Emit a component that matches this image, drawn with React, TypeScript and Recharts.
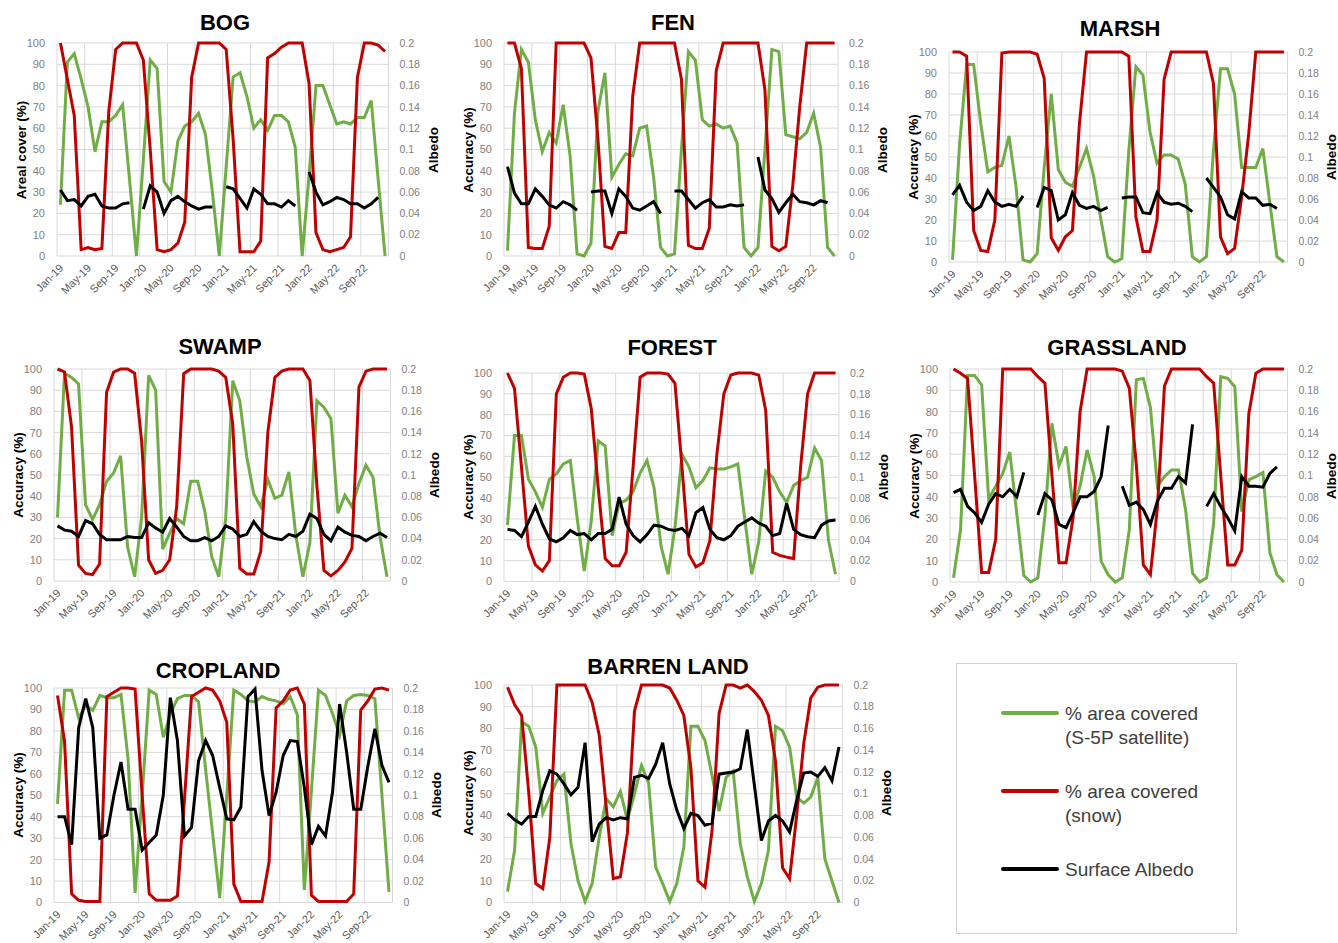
import { LineChart, Line, XAxis, YAxis, CartesianGrid } from 'recharts';

const MONTHS = [
  'Jan-19', 'Feb-19', 'Mar-19', 'Apr-19', 'May-19', 'Jun-19', 'Jul-19', 'Aug-19', 'Sep-19', 'Oct-19', 'Nov-19', 'Dec-19',
  'Jan-20', 'Feb-20', 'Mar-20', 'Apr-20', 'May-20', 'Jun-20', 'Jul-20', 'Aug-20', 'Sep-20', 'Oct-20', 'Nov-20', 'Dec-20',
  'Jan-21', 'Feb-21', 'Mar-21', 'Apr-21', 'May-21', 'Jun-21', 'Jul-21', 'Aug-21', 'Sep-21', 'Oct-21', 'Nov-21', 'Dec-21',
  'Jan-22', 'Feb-22', 'Mar-22', 'Apr-22', 'May-22', 'Jun-22', 'Jul-22', 'Aug-22', 'Sep-22', 'Oct-22', 'Nov-22', 'Dec-22',
];
// labelled every 4th month
const MONTH_TICKS = [0, 4, 8, 12, 16, 20, 24, 28, 32, 36, 40, 44];
const PCT_TICKS = [0, 10, 20, 30, 40, 50, 60, 70, 80, 90, 100];
const ALB_TICKS = [0, 0.02, 0.04, 0.06, 0.08, 0.1, 0.12, 0.14, 0.16, 0.18, 0.2];

// % area covered (S-5P satellite), % area covered (snow), surface albedo
const BOG_SAT = [24, 91, 95, 83, 70, 49, 63, 63, 66, 71, 36, 0, 45, 92, 88, 35, 30, 54, 61, 63, 67, 57, 30, 0, 42, 84, 86, 75, 60, 64, 59, 66, 66, 63, 51, 0, 38, 80, 80, 71, 62, 63, 62, 65, 65, 73, 36, 0];
const BOG_SNOW = [100, 83, 66, 3, 4, 3, 3.5, 68, 97, 100, 100, 100, 92, 50, 3, 2, 3, 6, 16, 84, 100, 100, 100, 100, 97, 55, 2, 2, 2, 7, 93, 95, 98, 100, 100, 100, 81, 11, 3, 2, 3, 4, 9, 84, 100, 100, 99, 96];
const BOG_ALB = [0.062, 0.052, 0.053, 0.047, 0.056, 0.058, 0.047, 0.045, 0.045, 0.049, 0.05, null, 0.044, 0.066, 0.06, 0.04, 0.052, 0.056, 0.051, 0.047, 0.044, 0.046, 0.046, null, 0.065, 0.063, 0.054, 0.045, 0.063, 0.058, 0.049, 0.049, 0.046, 0.052, 0.047, null, 0.079, 0.06, 0.048, 0.051, 0.055, 0.053, 0.049, 0.049, 0.045, 0.049, 0.055, null];

const FEN_SAT = [2.5, 67, 97, 91, 64, 49, 58, 53, 71, 47, 1, 0, 6, 68, 86, 37, 43, 48, 47, 60, 61, 37, 4, 0, 1, 50, 96, 92, 64, 61, 62, 60, 61, 53, 4, 0, 4, 50, 97, 96, 57, 56, 55, 58, 67, 51, 4, 0];
const FEN_SNOW = [100, 100, 88, 4, 3.5, 3.5, 14, 100, 100, 100, 100, 100, 93, 55, 4.5, 3.5, 11, 11, 75, 100, 100, 100, 100, 100, 100, 83, 5, 3.5, 3.5, 13, 87, 100, 100, 100, 100, 100, 100, 78, 4.5, 2.5, 4.5, 33, 70, 100, 100, 100, 100, 100];
const FEN_ALB = [0.084, 0.059, 0.049, 0.049, 0.063, 0.056, 0.048, 0.045, 0.051, 0.048, 0.043, null, 0.06, 0.061, 0.061, 0.04, 0.063, 0.056, 0.045, 0.043, 0.047, 0.051, 0.04, null, 0.061, 0.061, 0.053, 0.045, 0.05, 0.053, 0.046, 0.046, 0.048, 0.047, 0.048, null, 0.093, 0.062, 0.054, 0.041, 0.05, 0.058, 0.051, 0.05, 0.048, 0.052, 0.05, null];

const MARSH_SAT = [1, 56, 94, 94, 66, 43, 45, 46, 60, 36, 1, 0, 4, 45, 80, 44, 38, 36, 45, 54, 41, 21, 2.5, 0, 1.5, 53, 93, 89, 62, 47, 51, 51, 49, 37, 2.5, 0, 2.5, 53, 92, 92, 80, 45, 45, 45, 54, 28, 2.5, 0];
const MARSH_SNOW = [100, 100, 98, 15, 5.5, 5, 20, 99.5, 100, 100, 100, 100, 99, 87.5, 11.5, 5.5, 12, 15, 66, 100, 100, 100, 100, 100, 100, 98, 21.5, 5, 5, 20, 87, 100, 100, 100, 100, 100, 100, 85, 12, 4, 6.5, 31, 61, 100, 100, 100, 100, 100];
const MARSH_ALB = [0.064, 0.073, 0.057, 0.049, 0.053, 0.068, 0.057, 0.053, 0.055, 0.053, 0.063, null, 0.052, 0.071, 0.068, 0.04, 0.045, 0.066, 0.054, 0.051, 0.053, 0.049, 0.052, null, 0.061, 0.062, 0.062, 0.047, 0.046, 0.066, 0.057, 0.055, 0.056, 0.053, 0.048, null, 0.08, 0.071, 0.062, 0.045, 0.041, 0.067, 0.061, 0.061, 0.054, 0.055, 0.051, null];

const SWAMP_SAT = [30, 98, 96, 93, 36, 29, 36, 47, 51, 59, 16, 2, 30, 97, 90, 15, 22.5, 29.5, 27, 47, 47, 33, 11.5, 2, 30, 94.5, 85, 58.5, 41, 35, 48, 39, 40.5, 51.5, 21.5, 2, 18, 85, 82, 76.6, 32, 40.5, 35, 46, 54.6, 49, 21, 2];
const SWAMP_SNOW = [100, 98.6, 72.7, 7.5, 3.6, 3, 8, 89, 98.5, 100, 100, 98, 66, 10, 3.6, 5, 10, 35, 97.8, 100, 100, 100, 100, 99, 96, 74, 6, 3.3, 3.3, 14, 70, 96, 99, 100, 100, 100, 94.6, 45, 5, 2.4, 5, 9, 15.4, 91.5, 99, 100, 100, 100];
const SWAMP_ALB = [0.052, 0.048, 0.047, 0.042, 0.057, 0.054, 0.044, 0.039, 0.039, 0.039, 0.042, 0.041, 0.041, 0.055, 0.05, 0.046, 0.059, 0.051, 0.042, 0.038, 0.038, 0.041, 0.038, 0.042, 0.052, 0.049, 0.042, 0.044, 0.056, 0.047, 0.042, 0.04, 0.039, 0.044, 0.042, 0.047, 0.063, 0.059, 0.044, 0.038, 0.051, 0.046, 0.043, 0.042, 0.038, 0.042, 0.045, 0.041];

const FOREST_SAT = [27, 70, 70, 49, 43, 35.6, 49, 51.6, 56.4, 58, 30, 5, 29, 67.5, 65, 22, 37.5, 39, 43, 52, 58, 45, 17, 3.5, 26, 61, 55, 45, 48.4, 54.5, 54, 54, 55, 56.4, 30, 3.5, 19, 53, 50, 43, 38, 46, 48.4, 50, 64, 58, 19.6, 3.5];
const FOREST_SNOW = [100, 92.6, 55, 17, 8, 5, 10, 90, 98, 100, 100, 99.5, 83, 45, 11, 7.5, 7.5, 14, 55, 98, 100, 100, 100, 99.5, 95, 55, 13, 7, 9, 19.6, 61, 90, 99, 100, 100, 100, 99, 82, 14, 12.5, 11.7, 11, 55, 90, 100, 100, 100, 100];
const FOREST_ALB = [0.05, 0.049, 0.043, 0.057, 0.072, 0.055, 0.041, 0.038, 0.042, 0.049, 0.045, 0.046, 0.04, 0.046, 0.046, 0.05, 0.081, 0.055, 0.044, 0.038, 0.045, 0.054, 0.053, 0.05, 0.049, 0.051, 0.044, 0.066, 0.071, 0.05, 0.042, 0.04, 0.044, 0.053, 0.057, 0.061, 0.056, 0.053, 0.044, 0.046, 0.075, 0.05, 0.045, 0.043, 0.042, 0.054, 0.058, 0.059];

const GRASS_SAT = [2, 24.5, 97, 97, 92.5, 39, 45, 51, 61, 32, 3, 0, 2, 31, 74.5, 54.5, 63.6, 35, 45, 62, 49.5, 9.7, 3.4, 0, 2, 24.5, 95, 95.6, 82, 45, 49.5, 52.6, 52.6, 34, 4.2, 0, 2, 27.6, 96.4, 95.6, 91.7, 33, 48, 49.5, 51.4, 13.6, 3.4, 0];
const GRASS_SNOW = [100, 98, 95.6, 50, 4.5, 4.5, 20, 100, 100, 100, 100, 100, 96.4, 93.3, 50, 9, 9, 30, 80, 100, 100, 100, 100, 100, 99, 91, 55, 8, 3.5, 35, 92, 100, 100, 100, 100, 100, 96.4, 93.3, 50, 8, 8, 15, 79, 98, 100, 100, 100, 100];
const GRASS_ALB = [0.084, 0.087, 0.071, 0.065, 0.056, 0.073, 0.083, 0.08, 0.087, 0.08, 0.103, null, 0.063, 0.083, 0.077, 0.054, 0.051, 0.065, 0.08, 0.08, 0.085, 0.099, 0.147, null, 0.09, 0.072, 0.075, 0.068, 0.054, 0.076, 0.088, 0.088, 0.099, 0.093, 0.148, null, 0.071, 0.083, 0.071, 0.06, 0.048, 0.099, 0.09, 0.09, 0.089, 0.102, 0.108, null];

const CROP_SAT = [46, 99, 99, 86, 92, 89.5, 96.6, 95.5, 95.5, 97, 67, 4.5, 50, 99, 97, 77, 88, 95, 96.5, 96.5, 93.5, 62, 32, 2, 50, 99, 97, 94, 93.5, 96, 94.6, 94, 92.7, 96, 87.5, 5.8, 52, 99, 96.5, 88, 78, 94, 96.5, 97, 96.5, 95, 50, 5];
const CROP_SNOW = [96.5, 75, 4, 1, 0.5, 0.5, 0.5, 96, 98, 100, 100, 99.5, 50, 4, 1, 1, 1, 3, 48, 96, 98, 100, 99, 94, 84, 8.6, 0.5, 0.5, 0.5, 0.5, 19, 90.7, 94, 99, 100, 92.5, 3.4, 0.5, 0.5, 0.5, 0.5, 0.5, 4, 89.7, 94, 99.5, 100, 99];
const CROP_ALB = [0.08, 0.08, 0.054, 0.163, 0.19, 0.163, 0.06, 0.063, 0.1, 0.131, 0.087, 0.087, 0.049, 0.056, 0.063, 0.1, 0.191, 0.151, 0.062, 0.07, 0.132, 0.151, 0.137, 0.107, 0.078, 0.077, 0.089, 0.192, 0.199, 0.123, 0.081, 0.103, 0.137, 0.151, 0.15, 0.107, 0.054, 0.071, 0.062, 0.103, 0.185, 0.14, 0.087, 0.087, 0.127, 0.162, 0.128, 0.112];

const BARREN_SAT = [5, 24, 83, 81, 71.5, 41, 48.5, 56, 59, 27, 10, 0.5, 8.7, 30, 47.7, 44, 51, 38, 50, 63, 55, 16.4, 8.7, 0.5, 8.7, 25.5, 81, 81, 74.5, 58.4, 42, 57.6, 60.4, 27, 11.8, 0.5, 8.7, 24, 81, 79, 71.4, 48.5, 45.7, 48.5, 57.6, 20, 10, 0];
const BARREN_SNOW = [99, 91, 86, 51, 8.7, 6.4, 30, 100, 100, 100, 100, 100, 92, 77, 44, 11, 11.8, 32, 88, 100, 100, 100, 100, 98.6, 93, 86, 62, 10, 7, 33, 87, 100, 100, 98.6, 100, 97, 93, 86, 65, 16, 11, 40, 73, 94, 99, 100, 100, 100];
const BARREN_ALB = [0.082, 0.076, 0.072, 0.079, 0.079, 0.103, 0.121, 0.118, 0.109, 0.099, 0.106, 0.147, 0.056, 0.072, 0.078, 0.076, 0.078, 0.077, 0.115, 0.117, 0.114, 0.127, 0.147, 0.109, 0.085, 0.068, 0.082, 0.08, 0.071, 0.073, 0.118, 0.119, 0.12, 0.123, 0.159, 0.108, 0.057, 0.075, 0.08, 0.075, 0.065, 0.094, 0.119, 0.12, 0.116, 0.124, 0.112, 0.143];

const GREEN = '#70ad47';
const RED = '#c00000';
const FONT = '"Liberation Sans", Arial, sans-serif';

// plot box = [left, top, right, bottom] in page pixels, title centre
const PANELS = [
  { title: 'BOG', yLabel: 'Areal cover (%)', box: [57, 43, 388.5, 256], head: [225, 23], sat: BOG_SAT, snow: BOG_SNOW, alb: BOG_ALB },
  { title: 'FEN', yLabel: 'Accuracy (%)', box: [503.5, 43, 837.5, 256], head: [673, 23], sat: FEN_SAT, snow: FEN_SNOW, alb: FEN_ALB },
  { title: 'MARSH', yLabel: 'Accuracy (%)', box: [948.5, 52, 1287, 262], head: [1120, 29], sat: MARSH_SAT, snow: MARSH_SNOW, alb: MARSH_ALB },
  { title: 'SWAMP', yLabel: 'Accuracy (%)', box: [53.5, 369, 390, 581], head: [220, 347], sat: SWAMP_SAT, snow: SWAMP_SNOW, alb: SWAMP_ALB },
  { title: 'FOREST', yLabel: 'Accuracy (%)', box: [503.5, 372.5, 838.5, 581], head: [672, 348], sat: FOREST_SAT, snow: FOREST_SNOW, alb: FOREST_ALB },
  { title: 'GRASSLAND', yLabel: 'Accuracy (%)', box: [949.5, 369, 1287, 582], head: [1117, 348], sat: GRASS_SAT, snow: GRASS_SNOW, alb: GRASS_ALB },
  { title: 'CROPLAND', yLabel: 'Accuracy (%)', box: [53.5, 687.5, 392, 902], head: [218, 671], sat: CROP_SAT, snow: CROP_SNOW, alb: CROP_ALB },
  { title: 'BARREN LAND', yLabel: 'Accuracy (%)', box: [503.5, 684.5, 842, 902], head: [668, 667], sat: BARREN_SAT, snow: BARREN_SNOW, alb: BARREN_ALB },
];

const AX_L = 57;
const AX_R = 60;
const PAD_T = 6;
const AX_B = 50;

const MonthTick = (props: any) => {
  const { x, y, payload, half } = props;
  const tx = x + half + 1;
  const ty = y + 2;
  return (
    <text
      x={tx}
      y={ty}
      dy="0.35em"
      textAnchor="end"
      transform={`rotate(-45, ${tx}, ${ty})`}
      fontSize={11}
      fill="#595959"
    >
      {MONTHS[payload.value]}
    </text>
  );
};

const Panel = ({ p }: { p: (typeof PANELS)[number] }) => {
  const [l, t, r, b] = p.box;
  const w = r - l;
  const h = b - t;
  const half = w / (MONTHS.length * 2);
  const data = MONTHS.map((m, i) => ({
    month: m,
    pos: i + 0.5,
    sat: p.sat[i],
    snow: p.snow[i],
    albedo: p.alb[i],
  }));
  const mid = (t + b) / 2;

  return (
    <>
      <div
        style={{
          position: 'absolute',
          left: p.head[0],
          top: p.head[1],
          transform: 'translate(-50%, -50%)',
          fontSize: 22,
          fontWeight: 'bold',
          whiteSpace: 'nowrap',
        }}
      >
        {p.title}
      </div>
      <div
        style={{
          position: 'absolute',
          left: l - 36,
          top: mid,
          transform: 'translate(-50%, -50%) rotate(-90deg)',
          fontSize: 13.5,
          fontWeight: 'bold',
          whiteSpace: 'nowrap',
        }}
      >
        {p.yLabel}
      </div>
      <div
        style={{
          position: 'absolute',
          left: r + 44,
          top: mid,
          transform: 'translate(-50%, -50%) rotate(-90deg)',
          fontSize: 13.5,
          fontWeight: 'bold',
          whiteSpace: 'nowrap',
        }}
      >
        Albedo
      </div>
      <div style={{ position: 'absolute', left: l - AX_L, top: t - PAD_T }}>
        <LineChart
          width={w + AX_L + AX_R}
          height={h + PAD_T + AX_B}
          data={data}
          margin={{ top: PAD_T, right: 0, bottom: 0, left: 0 }}
        >
          <CartesianGrid stroke="#d9d9d9" strokeWidth={1} />
          <XAxis
            dataKey="pos"
            type="number"
            domain={[0, MONTHS.length]}
            ticks={MONTH_TICKS}
            interval={0}
            height={AX_B}
            axisLine={false}
            tickLine={false}
            tick={(tp: any) => <MonthTick {...tp} half={half} />}
          />
          <YAxis
            domain={[0, 100]}
            ticks={PCT_TICKS}
            interval={0}
            width={AX_L}
            axisLine={false}
            tickLine={false}
            tickMargin={6}
            tick={{ fill: '#808080', fontSize: 11 }}
          />
          <YAxis
            yAxisId="alb"
            orientation="right"
            domain={[0, 0.2]}
            ticks={ALB_TICKS}
            interval={0}
            width={AX_R}
            axisLine={false}
            tickLine={false}
            tickMargin={5}
            tickFormatter={(v: number) => String(v)}
            tick={{ fill: '#808080', fontSize: 10.5, textAnchor: 'start' }}
          />
          <Line
            type="linear"
            dataKey="sat"
            stroke={GREEN}
            strokeWidth={3}
            dot={false}
            activeDot={false}
            isAnimationActive={false}
          />
          <Line
            type="linear"
            dataKey="snow"
            stroke={RED}
            strokeWidth={3}
            dot={false}
            activeDot={false}
            isAnimationActive={false}
          />
          <Line
            type="linear"
            dataKey="albedo"
            yAxisId="alb"
            stroke="#000000"
            strokeWidth={3}
            dot={false}
            activeDot={false}
            isAnimationActive={false}
          />
        </LineChart>
      </div>
    </>
  );
};

const LEGEND = [
  { color: GREEN, lines: ['% area covered', '(S-5P satellite)'], y: 713 },
  { color: RED, lines: ['% area covered', '(snow)'], y: 791 },
  { color: '#000000', lines: ['Surface Albedo'], y: 869 },
];

const LegendBox = () => (
  <>
    <div
      style={{
        position: 'absolute',
        left: 956,
        top: 663,
        width: 281,
        height: 271,
        border: '1px solid #d0d0d0',
        boxSizing: 'border-box',
      }}
    />
    {LEGEND.map((item) => (
      <div key={item.lines.join()}>
        <div
          style={{
            position: 'absolute',
            left: 1001,
            top: item.y - 2,
            width: 58,
            height: 4,
            borderRadius: 2,
            background: item.color,
          }}
        />
        {item.lines.map((txt, k) => (
          <div
            key={txt}
            style={{
              position: 'absolute',
              left: 1065,
              top: item.y + k * 24,
              transform: 'translateY(-50%)',
              fontSize: 19,
              color: '#404040',
              whiteSpace: 'nowrap',
              lineHeight: 1,
            }}
          >
            {txt}
          </div>
        ))}
      </div>
    ))}
  </>
);

export default function App() {
  return (
    <div
      style={{
        position: 'absolute',
        left: 0,
        top: 0,
        width: 1338,
        height: 943,
        background: '#ffffff',
        overflow: 'hidden',
        fontFamily: FONT,
        color: '#000',
      }}
    >
      {PANELS.map((p) => (
        <Panel key={p.title} p={p} />
      ))}
      <LegendBox />
    </div>
  );
}
